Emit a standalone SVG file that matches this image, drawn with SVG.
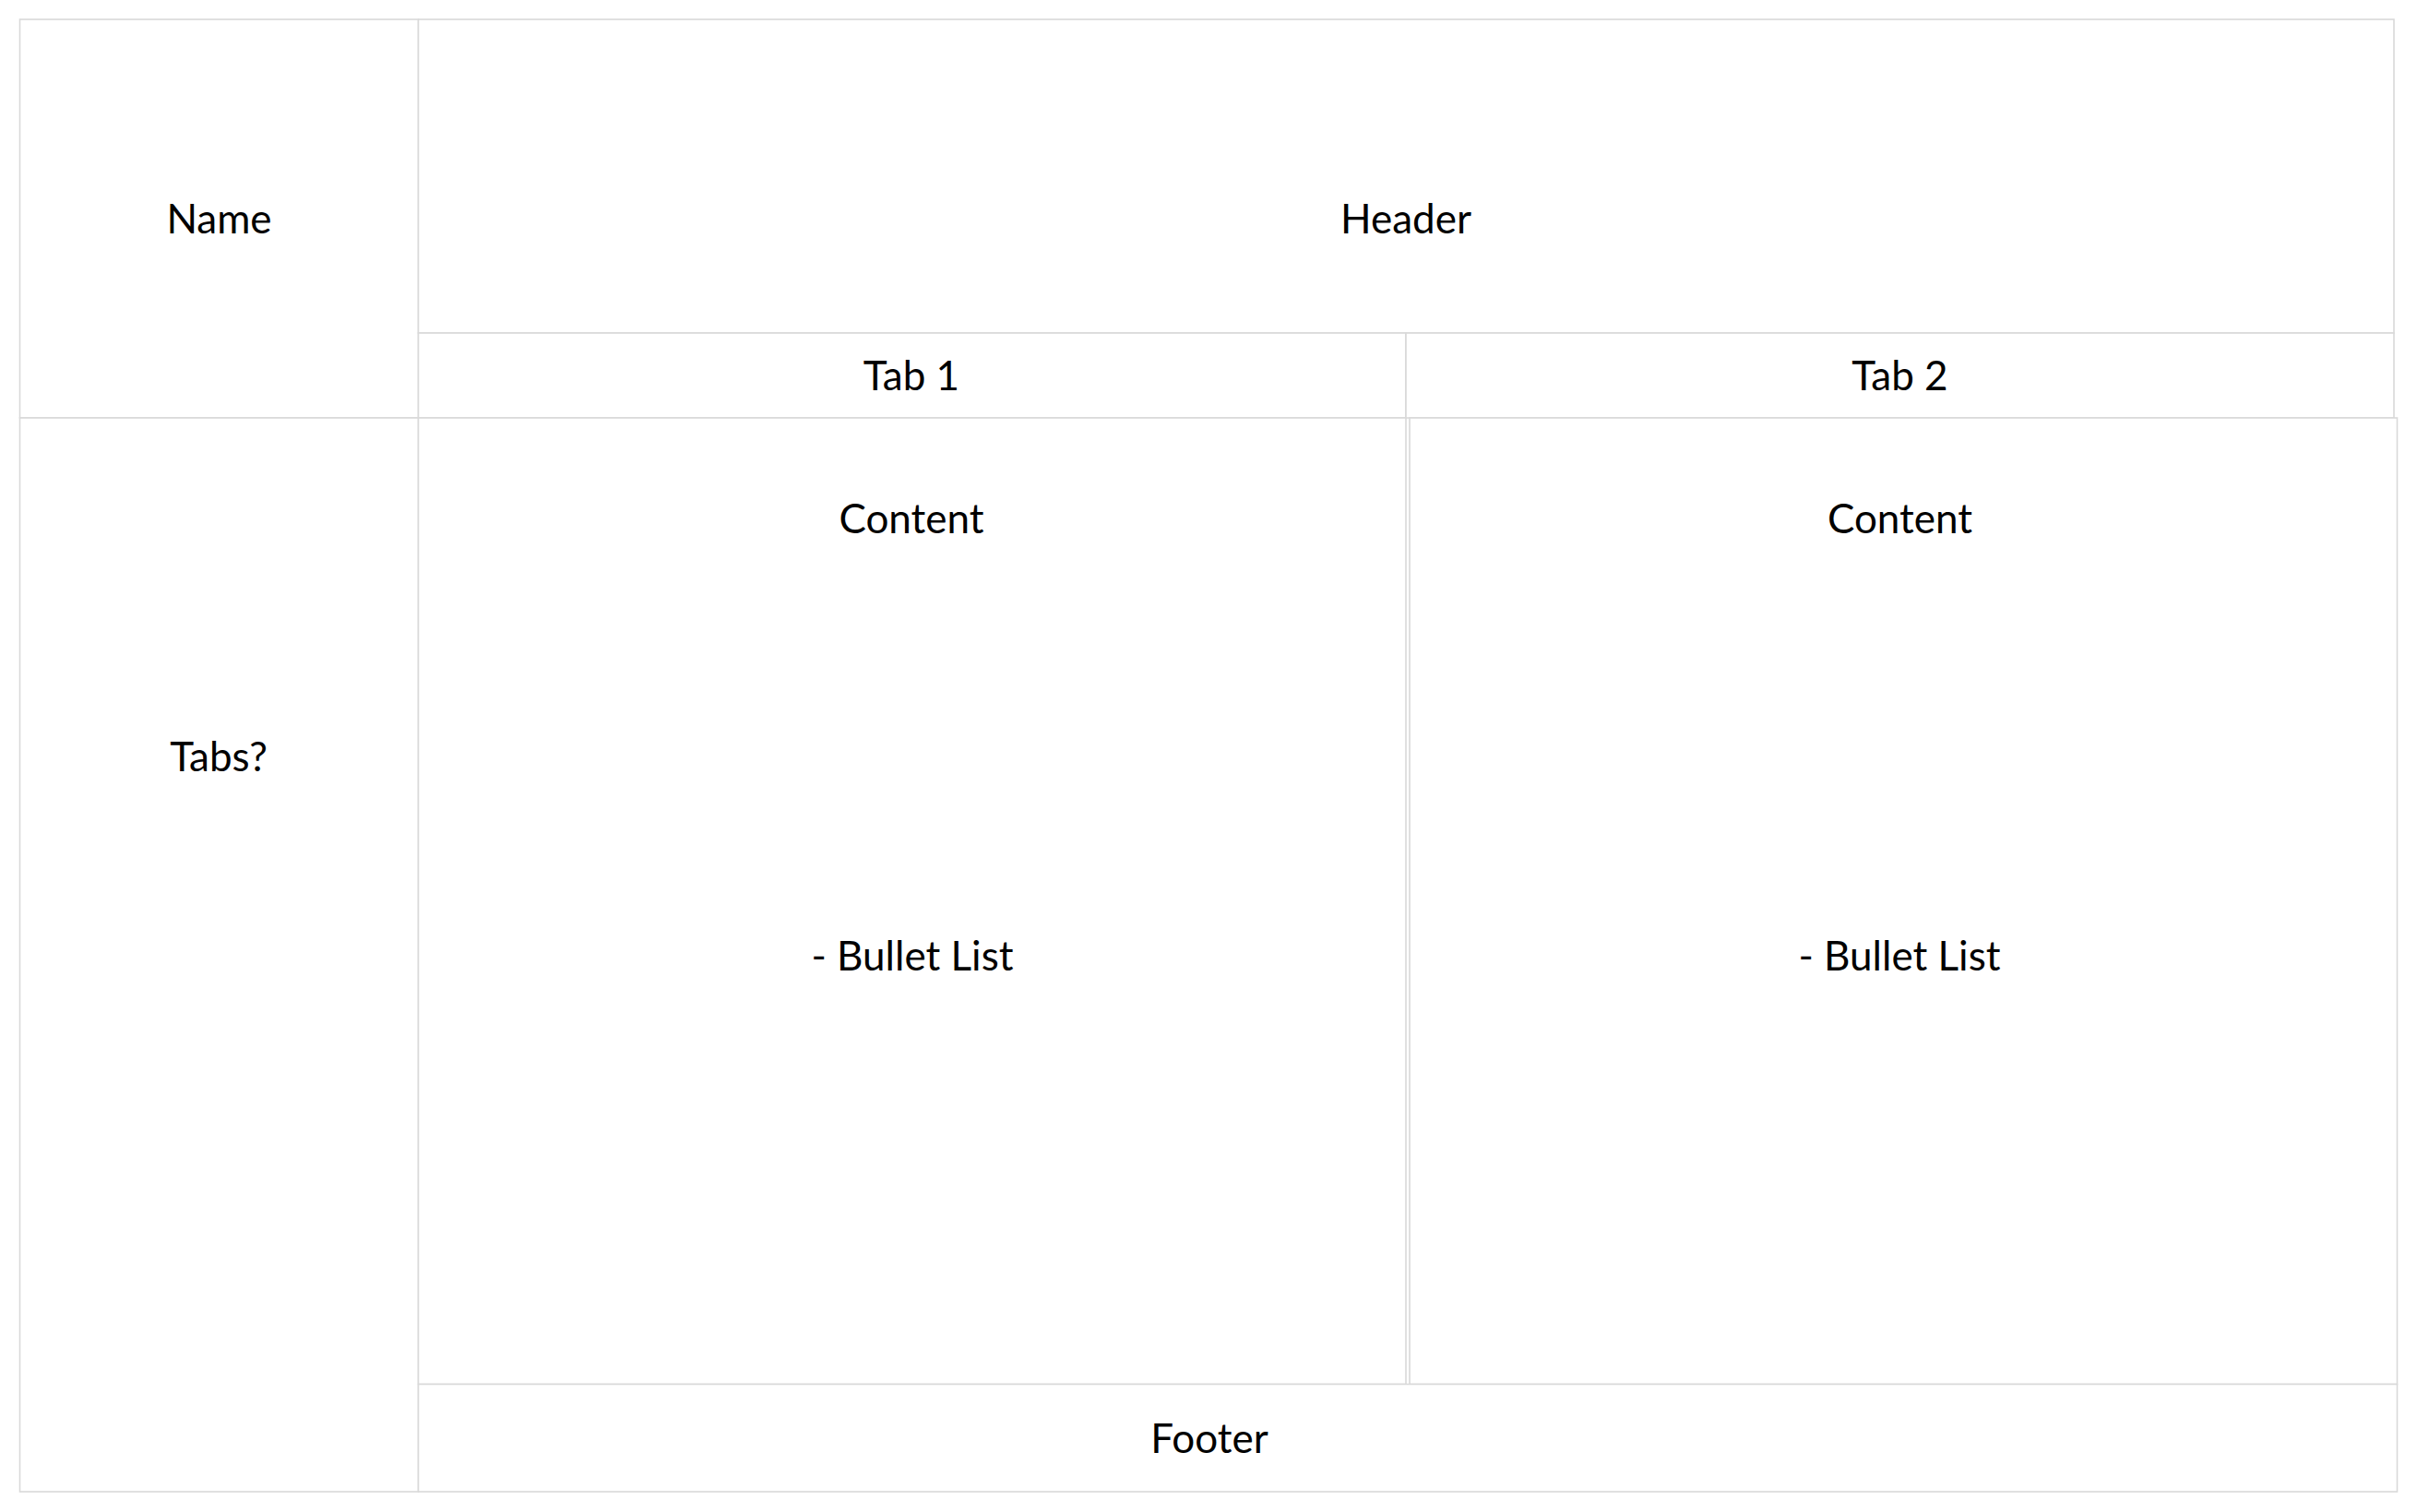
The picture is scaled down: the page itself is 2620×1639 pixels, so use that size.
<svg xmlns="http://www.w3.org/2000/svg" width="2620" height="1639" viewBox="0 0 2620 1639">
<style>
.box{fill:#ffffff;stroke:#d9d9d9;stroke-width:1.6}
.lbl{font-family:Lato,"Open Sans","Liberation Sans",sans-serif;font-size:44px;fill:#000000;text-anchor:middle}
</style>
<rect x="0" y="0" width="2620" height="1639" fill="#ffffff"/>
<g id="name"><rect class="box" x="21.5" y="21" width="432" height="432"/><text class="lbl" x="237.5" y="253">Name</text></g>
<g id="tabs-side"><rect class="box" x="21.5" y="453" width="432" height="1164"/><text class="lbl" x="237" y="836">Tabs?</text></g>
<g id="header"><rect class="box" x="453.5" y="21" width="2141.5" height="340"/><text class="lbl" x="1524" y="253">Header</text></g>
<g id="tab1"><rect class="box" x="453.5" y="361" width="1070.5" height="92"/><text class="lbl" x="988" y="423">Tab 1</text></g>
<g id="tab2"><rect class="box" x="1524" y="361" width="1071" height="92"/><text class="lbl" x="2059.5" y="423">Tab 2</text></g>
<g id="content1"><rect class="box" x="453.5" y="453" width="1070.5" height="1047.5"/><text class="lbl" x="988" y="578">Content</text><text class="lbl" x="989" y="1052">- Bullet List</text></g>
<g id="content2"><rect class="box" x="1528" y="453" width="1070.5" height="1047.5"/><text class="lbl" x="2059.5" y="578">Content</text><text class="lbl" x="2059" y="1052">- Bullet List</text></g>
<g id="footer"><rect class="box" x="453.5" y="1500.5" width="2145" height="116.5"/><text class="lbl" x="1311" y="1575">Footer</text></g>
<g id="connectors"></g>
</svg>
